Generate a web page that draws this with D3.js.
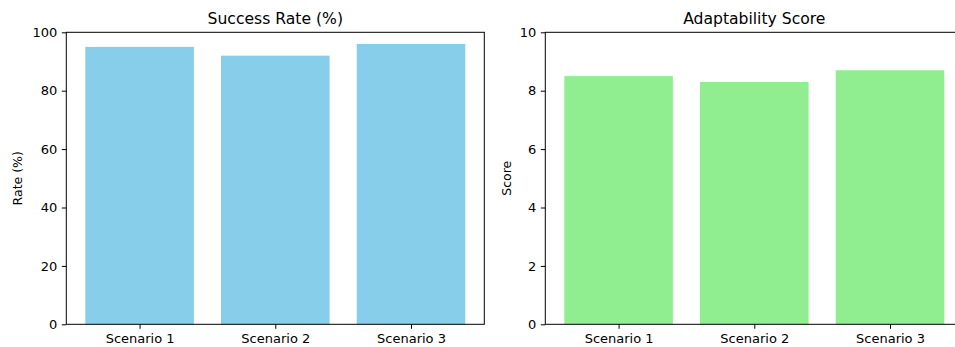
<!DOCTYPE html>
<html><head><meta charset="utf-8">
<script src="https://cdn.jsdelivr.net/npm/d3@7"></script>
<style>body{margin:0;background:#fff;}svg{display:block;font-family:"DejaVu Sans",sans-serif;}</style>
</head><body>
<svg id="c" width="955" height="347"></svg>
<script>
const categories = ["Scenario 1", "Scenario 2", "Scenario 3"];
const successRate = [95, 92, 96];
const adaptability = [8.5, 8.3, 8.7];
const successTicks = [0, 20, 40, 60, 80, 100];
const adaptTicks = [0, 2, 4, 6, 8, 10];

(function () {
const svg = d3.select("#c");
const yTop = 32.3, yBot = 324.3, W = 418;

function panel(x0, values, ymax, ticks, color, title, ylabel, ylabelX) {
  const g = svg.append("g");
  const x = d3.scaleLinear().domain([-0.54, 2.54]).range([x0, x0 + W]);
  const y = d3.scaleLinear().domain([0, ymax]).range([yBot, yTop]);
  g.selectAll("rect.bar").data(values).enter().append("rect").attr("class", "bar")
    .attr("x", (d, i) => x(i - 0.4)).attr("width", x(0.8) - x(0))
    .attr("y", d => y(d)).attr("height", d => y(0) - y(d))
    .attr("fill", color);
  g.append("rect").attr("x", x0).attr("y", yTop).attr("width", W).attr("height", yBot - yTop)
    .attr("fill", "none").attr("stroke", "#000").attr("stroke-width", 1);
  const ya = g.append("g").attr("transform", `translate(${x0},0)`)
    .call(d3.axisLeft(y).tickValues(ticks).tickSize(4.5).tickPadding(4.5).tickFormat(d3.format("d")));
  ya.select(".domain").remove();
  ya.selectAll("text").attr("font-size", 13).attr("fill", "#000").attr("font-family", "DejaVu Sans");
  ya.selectAll("line").attr("stroke", "#000");
  const xa = g.append("g").attr("transform", `translate(0,${yBot})`)
    .call(d3.axisBottom(x).tickValues([0, 1, 2]).tickSize(4.5).tickPadding(4.5).tickFormat(i => categories[i]));
  xa.select(".domain").remove();
  xa.selectAll("text").attr("font-size", 13).attr("fill", "#000").attr("font-family", "DejaVu Sans");
  xa.selectAll("line").attr("stroke", "#000");
  g.append("text").attr("x", x0 + W / 2).attr("y", 24).attr("text-anchor", "middle")
    .attr("font-size", 15.6).text(title);
  g.append("text").attr("transform", `translate(${ylabelX},${(yTop + yBot) / 2}) rotate(-90)`)
    .attr("text-anchor", "middle").attr("font-size", 12.5).text(ylabel);
}
panel(66.3, successRate, 100, successTicks, "#87CEEB", "Success Rate (%)", "Rate (%)", 21.5);
panel(545.3, adaptability, 10, adaptTicks, "#90EE90", "Adaptability Score", "Score", 510.5);
})();
</script>
</body></html>
